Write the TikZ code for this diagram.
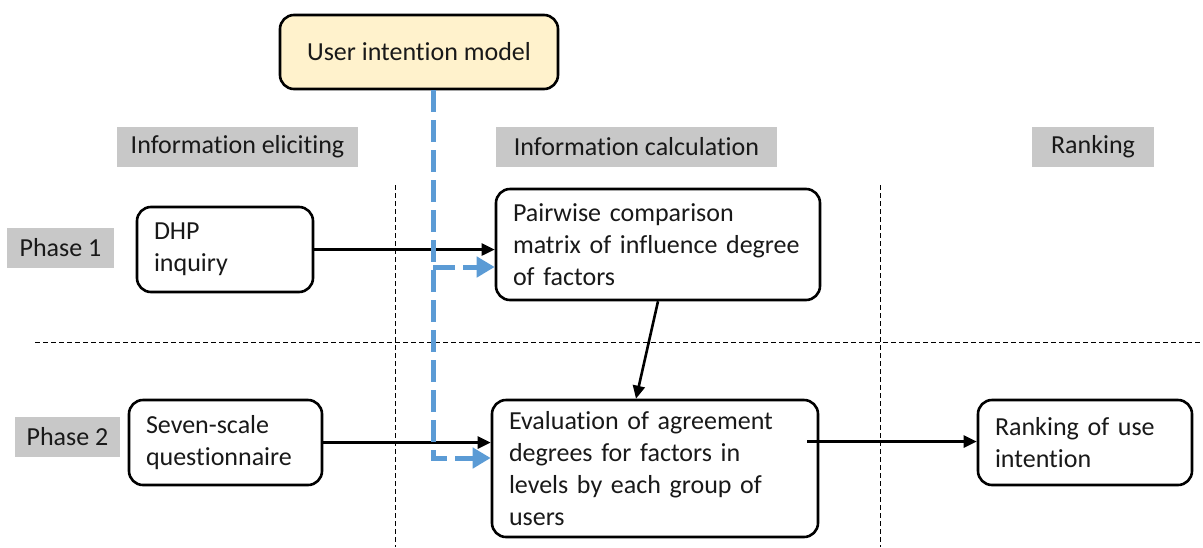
\documentclass[tikz,border=0pt]{standalone}
\usepackage{fontspec}
\setmainfont[Ligatures=NoCommon]{Carlito}
\usetikzlibrary{arrows.meta,calc}
\definecolor{cream}{RGB}{255,242,204}
\definecolor{lbl}{RGB}{200,200,200}
\definecolor{blu}{RGB}{91,155,213}
\begin{document}
\begin{tikzpicture}[x=1pt,y=-1pt,
  every node/.style={font=\fontsize{26}{32}\selectfont, text=black!90},
  box/.style={draw=black, line width=2.6pt, rounded corners=14pt, fill=white, inner xsep=17pt, inner ysep=0pt, align=left},
  tag/.style={fill=lbl, inner sep=0pt, align=center},
  arr/.style={line width=2.6pt, -{Triangle[length=13pt,width=12pt]}},
  sep/.style={line width=0.9pt, dash pattern=on 5pt off 3pt},
  bl/.style={draw=blu, line width=5pt, dash pattern=on 22pt off 8pt, -{Triangle[length=18pt,width=20pt]}}
]
\useasboundingbox (0,0) rectangle (1203,547);
% separators
\coordinate (v1t) at (395,185); \coordinate (v1b) at (395,547);
\coordinate (v2t) at (880,185); \coordinate (v2b) at (880,547);
\coordinate (hl) at (35,342); \coordinate (hr) at (1203,342);
\draw[sep] (v1t) -- (v1b);
\draw[sep] (v2t) -- (v2b);
\draw[sep] (hl) -- (hr);
% labels
\node[tag, minimum width=241pt, minimum height=40pt] (ie) at (237.5,147) {Information eliciting};
\node[tag, minimum width=281pt, minimum height=40pt] (ic) at (636.5,147) {Information calculation};
\node[tag, minimum width=122pt, minimum height=40pt] (rkl) at (1093,147) {Ranking};
\node[tag, minimum width=107pt, minimum height=40pt] (p1) at (60.5,248) {Phase 1};
\node[tag, minimum width=105pt, minimum height=40pt] (p2) at (67.5,437) {Phase 2};
% boxes
\node[box, fill=cream, align=center, inner xsep=0pt, minimum width=278pt, minimum height=74pt] (uim) at (419,52) {User intention model};
\node[box, text width=142pt, minimum height=85pt] (dhp) at (225,249.5) {DHP\\inquiry};
\node[box, text width=290pt, minimum height=111pt] (pw) at (658,244.5) {Pairwise comparison\\matrix of influence degree\\of factors};
\node[box, text width=159pt, minimum height=85pt] (ss) at (225.5,442.5) {Seven-scale\\questionnaire};
\node[box, text width=292pt, minimum height=137pt] (ev) at (655,468.5) {Evaluation of agreement\\degrees for factors in\\levels by each group of\\users};
\node[box, text width=180pt, minimum height=85pt] (rk) at (1085,442.5) {Ranking of use\\intention};
% connectors
\draw[arr] (dhp.east) -- (pw.west |- dhp.east);
\draw[arr] (ss.east) -- (ev.west |- ss.east);
\draw[arr] (pw.south) -- ($(ev.north)+(-19,0)$);
\draw[arr] ($(ev.east |- rk.west)+(-12,-1)$) -- ($(rk.west)+(0,-1)$);
% blue dashed
\coordinate (bt) at ($(uim.south)+(14,0)$);
\coordinate (bm) at (433,267);
\draw[bl] (bt) |- ($(ev.west)+(0,-10.5)$);
\draw[bl] (bm) -- (pw.west |- bm);
\end{tikzpicture}
\end{document}
